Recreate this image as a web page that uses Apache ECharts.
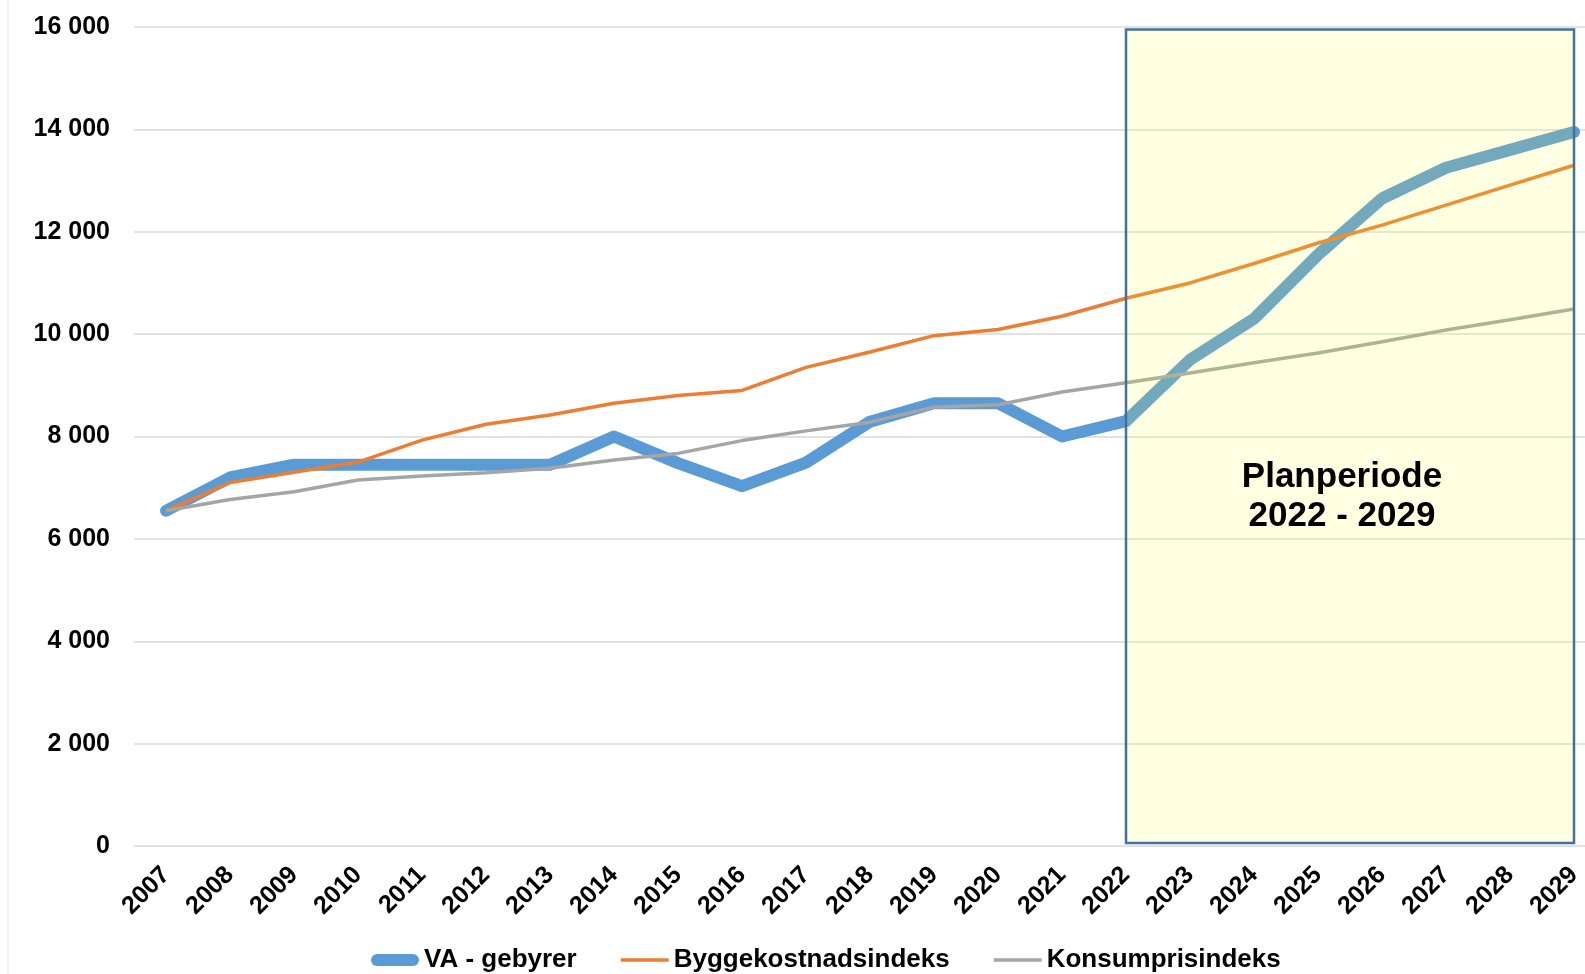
<!DOCTYPE html>
<html lang="no">

<head>
    <meta charset="UTF-8">
    <title>VA - gebyrer</title>
    <style>
        html, body { margin: 0; padding: 0; background: #fff; }
        .show { width: 1585px; height: 974px; }
    </style>
</head>

<body>
    <div class="show"></div>
    <script src="https://cdn.jsdelivr.net/npm/echarts/dist/echarts.min.js"></script>
    <script>
        // years on the x axis
        const years = ['2007', '2008', '2009', '2010', '2011', '2012', '2013', '2014', '2015', '2016', '2017', '2018',
            '2019', '2020', '2021', '2022', '2023', '2024', '2025', '2026', '2027', '2028', '2029']
        // VA - gebyrer (thick blue)
        const vaGebyrer = [6550, 7200, 7450, 7450, 7450, 7450, 7450, 8000, 7480, 7030, 7490, 8290,
            8650, 8650, 8000, 8300, 9500, 10300, 11550, 12650, 13250, 13600, 13950]
        // Byggekostnadsindeks (orange)
        const bygg = [6550, 7100, 7300, 7500, 7930, 8240, 8420, 8650, 8800, 8900, 9350, 9650,
            9970, 10090, 10350, 10700, 11000, 11380, 11780, 12130, 12520, 12910, 13300]
        // Konsumprisindeks (grey)
        const kpi = [6550, 6770, 6920, 7150, 7230, 7290, 7380, 7540, 7670, 7920, 8110, 8280,
            8570, 8620, 8870, 9050, 9240, 9440, 9630, 9850, 10080, 10280, 10490]
        // plan period box
        const planStart = '2022'
        const planEnd = '2029'
        const planLabel = 'Planperiode\n2022 - 2029'

        const font = 'Liberation Sans, Arial, sans-serif'
        const myChart = echarts.init(document.querySelector('.show'))

        // legend icons: thick rounded bar for VA, thin bar for the two indexes
        const thickIcon = 'path://M6,0 H42 A6,6 0 0 1 42,12 H6 A6,6 0 0 1 6,0 Z'
        const thinIcon = 'path://M0,0 H48 V3.5 H0 Z'

        const option = {
            animation: false,
            textStyle: { fontFamily: font },
            grid: {
                left: 134,
                top: 27,
                bottom: 128,
                /* the original picture is cut off at the right, so the plot runs past the edge */
                width: 1472,
                containLabel: false,
                outerBoundsMode: 'none'
            },
            legend: {
                left: 366,
                bottom: -4,
                itemWidth: 48,
                itemHeight: 12,
                itemGap: 44,
                symbolKeepAspect: true,
                textStyle: { fontSize: 26, fontWeight: 'bold', color: '#000', fontFamily: font },
                data: [
                    { name: 'VA - gebyrer', icon: thickIcon },
                    { name: 'Byggekostnadsindeks', icon: thinIcon },
                    { name: 'Konsumprisindeks', icon: thinIcon }
                ]
            },
            xAxis: {
                type: 'category',
                data: years,
                boundaryGap: true,
                axisLine: { show: false },
                axisTick: { show: false },
                axisLabel: {
                    rotate: 45,
                    margin: 25,
                    fontSize: 25,
                    fontWeight: 'bold',
                    color: '#000',
                    fontFamily: font
                }
            },
            yAxis: {
                type: 'value',
                min: 0,
                max: 16000,
                interval: 2000,
                axisLine: { show: false },
                axisTick: { show: false },
                axisLabel: {
                    margin: 24,
                    fontSize: 25,
                    fontWeight: 'bold',
                    color: '#000',
                    fontFamily: font,
                    formatter: v => String(v).replace(/\B(?=(\d{3})+(?!\d))/g, ' ')
                },
                splitLine: { lineStyle: { color: '#D9D9D9', width: 1.5 } }
            },
            graphic: [{
                type: 'line',
                shape: { x1: 8, y1: 0, x2: 8, y2: 974 },
                style: { stroke: '#E6E6E6', lineWidth: 1 }
            }],
            series: [{
                name: 'VA - gebyrer',
                type: 'line',
                data: vaGebyrer,
                symbol: 'none',
                lineStyle: { color: '#5B9BD5', width: 12, cap: 'round', join: 'round' },
                itemStyle: { color: '#5B9BD5' }
            },
            {
                name: 'Byggekostnadsindeks',
                type: 'line',
                data: bygg,
                symbol: 'none',
                lineStyle: { color: '#ED7D31', width: 3.5 },
                itemStyle: { color: '#ED7D31' }
            },
            {
                name: 'Konsumprisindeks',
                type: 'line',
                data: kpi,
                symbol: 'none',
                lineStyle: { color: '#A5A5A5', width: 3.5 },
                itemStyle: { color: '#A5A5A5' }
            },
            {
                /* empty series only holding the yellow box, drawn above the lines */
                name: 'plan',
                type: 'line',
                data: [],
                z: 10,
                silent: true,
                markArea: {
                    z: 10,
                    silent: true,
                    itemStyle: {
                        color: 'rgba(255, 255, 40, 0.14)',
                        borderColor: '#41719C',
                        borderWidth: 2.5
                    },
                    label: {
                        show: true,
                        position: 'inside',
                        offset: [-8, 61],
                        fontSize: 35,
                        lineHeight: 39,
                        fontWeight: 'bold',
                        color: '#000',
                        fontFamily: font,
                        align: 'center'
                    },
                    data: [[
                        { name: planLabel, xAxis: planStart, yAxis: 15950 },
                        { xAxis: planEnd, yAxis: 60 }
                    ]]
                }
            }]
        }

        myChart.setOption(option)
    </script>
</body>

</html>
